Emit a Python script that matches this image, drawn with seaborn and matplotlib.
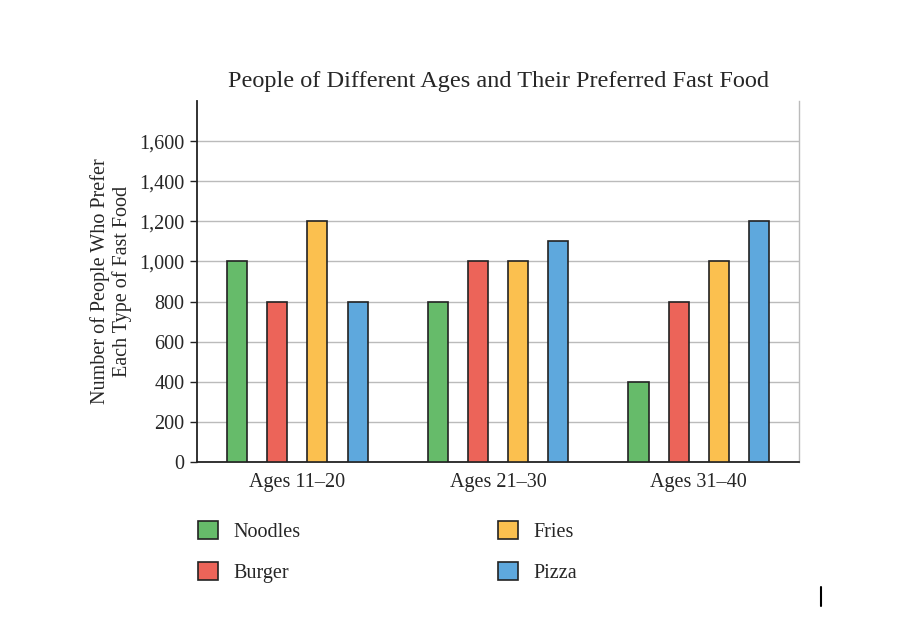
import pandas as pd
import seaborn as sns
import matplotlib.pyplot as plt
from matplotlib.lines import Line2D

# values
age_groups = ["Ages 11\u201320", "Ages 21\u201330", "Ages 31\u201340"]
noodles = [1000, 800, 400]
burger = [800, 1000, 800]
fries = [1200, 1000, 1000]
pizza = [800, 1100, 1200]
foods = ["Noodles", "Burger", "Fries", "Pizza"]
colors = ["#66bb6a", "#ec6459", "#fbc04f", "#5ea8dd"]

rows = []
for food, vals in zip(foods, [noodles, burger, fries, pizza]):
    for age, v in zip(age_groups, vals):
        rows.append({"age": age, "food": food, "count": v})
df = pd.DataFrame(rows)

sns.set_theme(style="white")
plt.rcParams["font.family"] = ["Liberation Serif", "DejaVu Serif"]

fig = plt.figure(figsize=(9.08, 6.44), dpi=100)
ax = fig.add_axes([197 / 908, 1 - 462 / 644, 602 / 908, 361 / 644])

sns.barplot(data=df, x="age", y="count", hue="food", order=age_groups,
            hue_order=foods, palette=colors, width=0.8, gap=0.5,
            edgecolor="#222222", linewidth=1.2, saturation=1, ax=ax,
            legend=True, zorder=3)

ax.set_xlim(-0.5, 2.5)
ax.set_ylim(0, 1800)
ax.set_yticks(range(0, 1601, 200))
ax.set_yticklabels([f"{v:,}" for v in range(0, 1601, 200)])
ax.yaxis.grid(True, color="#bbbbbb", linewidth=1, zorder=0)
ax.set_axisbelow(True)
ax.tick_params(axis="y", left=True, length=5, width=1, color="#222222",
               labelsize=14.5, pad=4)
ax.tick_params(axis="x", bottom=False, labelsize=14.5, pad=2)

for side in ["left", "bottom"]:
    ax.spines[side].set_color("#222222")
    ax.spines[side].set_linewidth(1.3)
ax.spines["right"].set_color("#bbbbbb")
ax.spines["right"].set_linewidth(1)
ax.spines["top"].set_visible(False)

ax.set_xlabel("")
ax.set_ylabel("Number of People Who Prefer\nEach Type of Fast Food",
              fontsize=14.5, labelpad=5, linespacing=1.15)
ax.set_title("People of Different Ages and Their Preferred Fast Food",
             fontsize=17.5, pad=10)

handles, labels = ax.get_legend_handles_labels()
ax.get_legend().remove()
fig.legend(handles, labels, loc="upper left",
           bbox_to_anchor=(198 / 908, 1 - 521 / 644), ncol=2,
           frameon=False, fontsize=14.5, handlelength=1.0, handleheight=1.0,
           handletextpad=0.75, columnspacing=9.8, labelspacing=1.0,
           borderpad=0, borderaxespad=0)

# small vertical mark at the lower right
fig.add_artist(Line2D([821 / 908, 821 / 908], [1 - 587 / 644, 1 - 606 / 644],
                      color="black", linewidth=1.5))

fig.savefig("out.png", dpi=100)
